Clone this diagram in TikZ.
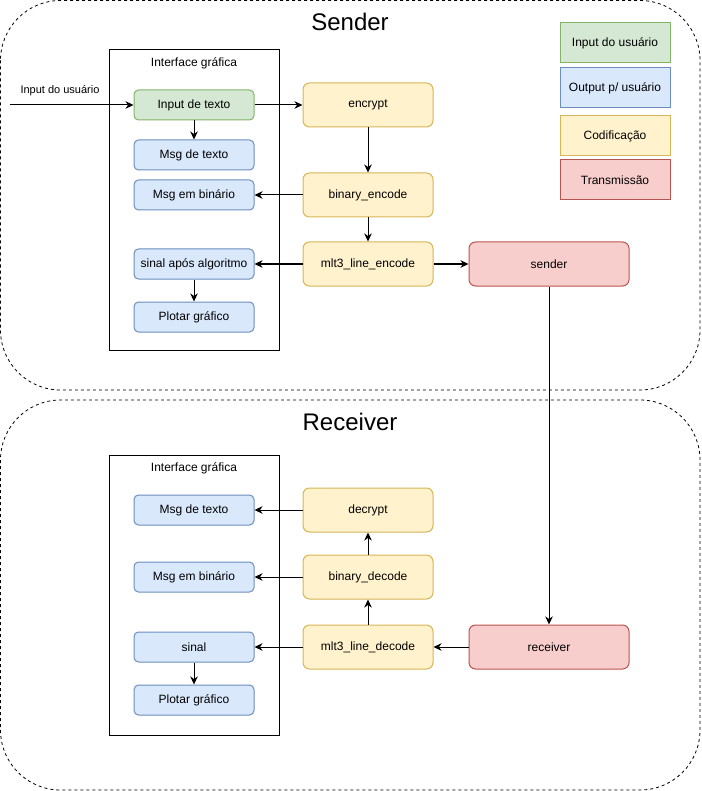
\documentclass[tikz,border=0pt]{standalone}
\usepackage{fontspec}
\setmainfont{Liberation Sans}
\usetikzlibrary{arrows.meta}
\definecolor{gfill}{HTML}{D5E8D4}\definecolor{gline}{HTML}{82B366}
\definecolor{bfill}{HTML}{DAE8FC}\definecolor{bline}{HTML}{6C8EBF}
\definecolor{yfill}{HTML}{FFF2CC}\definecolor{yline}{HTML}{D6B656}
\definecolor{rfill}{HTML}{F8CECC}\definecolor{rline}{HTML}{B85450}
\tikzset{
  base/.style={draw, line width=1pt, inner sep=0pt, font=\fontsize{12}{14}\selectfont, align=center},
  gbox/.style={base, fill=gfill, draw=gline, rounded corners=4.5pt, minimum width=120pt, minimum height=30pt},
  bbox/.style={base, fill=bfill, draw=bline, rounded corners=4.5pt, minimum width=120pt, minimum height=30pt},
  ybox/.style={base, fill=yfill, draw=yline, rounded corners=6.5pt, minimum width=130pt, minimum height=44pt},
  rbox/.style={base, fill=rfill, draw=rline, rounded corners=6.5pt, minimum width=160pt, minimum height=44pt},
  legbox/.style={base, minimum width=110pt, minimum height=40pt},
  frame/.style={draw, line width=1pt, inner sep=0pt},
  container/.style={draw, line width=0.8pt, dash pattern=on 3pt off 3pt, rounded corners=60pt, inner sep=0pt},
  title/.style={font=\fontsize{24}{28}\selectfont},
  small/.style={font=\fontsize{11}{13}\selectfont},
  mid/.style={font=\fontsize{12}{14}\selectfont},
  arr/.style={line width=1pt, -{Stealth[length=8pt,width=7.5pt,inset=2.5pt]}},
}
\begin{document}
\begin{tikzpicture}[x=1pt,y=-1pt]
\useasboundingbox (0,0) rectangle (701,791);
% containers
\draw[container] (0.5,0.5) rectangle (700,390);
\draw[container] (0.5,400) rectangle (700,790);
\node[title] (tS) at (350,22) {Sender};
\node[title] (tR) at (350,422) {Receiver};
% legend
\node[legbox, fill=gfill, draw=gline] (l1) at (615,43) {Input do usuário};
\node[legbox, fill=bfill, draw=bline] (l2) at (615,88) {Output p/ usuário};
\node[legbox, fill=yfill, draw=yline] (l3) at (615,136) {Codificação};
\node[legbox, fill=rfill, draw=rline] (l4) at (615,180) {Transmissão};
% sender interface
\node[frame, minimum width=170pt, minimum height=300pt] (ifS) at (194,200) {};
\node[mid] (ifSl) at (194,63) {Interface gráfica};
\node[gbox] (inp) at (194,105) {Input de texto};
\node[bbox] (msgS) at (194,155) {Msg de texto};
\node[bbox] (binS) at (194,195) {Msg em binário};
\node[bbox] (sigS) at (194,264) {sinal após algoritmo};
\node[bbox] (plotS) at (194,317) {Plotar gráfico};
\node[ybox] (enc) at (368,105) {encrypt};
\node[ybox] (benc) at (368,195) {binary\_encode};
\node[ybox] (menc) at (368,264) {mlt3\_line\_encode};
\node[rbox] (snd) at (549,264) {sender};
\coordinate (uin) at (10,105);
\node[small] (ulab) at (60,91) {Input do usuário};
% receiver interface
\node[frame, minimum width=170pt, minimum height=280pt] (ifR) at (194,595) {};
\node[mid] (ifRl) at (194,468) {Interface gráfica};
\node[bbox] (msgR) at (194,510) {Msg de texto};
\node[bbox] (binR) at (194,577) {Msg em binário};
\node[bbox] (sigR) at (194,647) {sinal};
\node[bbox] (plotR) at (194,700) {Plotar gráfico};
\node[ybox] (dec) at (368,510) {decrypt};
\node[ybox] (bdec) at (368,577) {binary\_decode};
\node[ybox] (mdec) at (368,647) {mlt3\_line\_decode};
\node[rbox] (rcv) at (549,647) {receiver};
% arrows sender
\draw[arr] (uin) -- (inp.west);
\draw[arr] (inp.east) -- (enc.west);
\draw[arr] (inp.south) -- (msgS.north);
\draw[arr] (enc.south) -- (benc.north);
\draw[arr] (benc.west) -- (binS.east);
\draw[arr] (benc.south) -- (menc.north);
\draw[arr] (menc.west) -- (sigS.east);
\draw[arr] (menc.east) -- (snd.west);
\draw[arr] (sigS.south) -- (plotS.north);
\draw[arr] (snd.south) -- (rcv.north);
% arrows receiver
\draw[arr] (rcv.west) -- (mdec.east);
\draw[arr] (mdec.north) -- (bdec.south);
\draw[arr] (bdec.north) -- (dec.south);
\draw[arr] (dec.west) -- (msgR.east);
\draw[arr] (bdec.west) -- (binR.east);
\draw[arr] (mdec.west) -- (sigR.east);
\draw[arr] (sigR.south) -- (plotR.north);
\end{tikzpicture}
\end{document}
